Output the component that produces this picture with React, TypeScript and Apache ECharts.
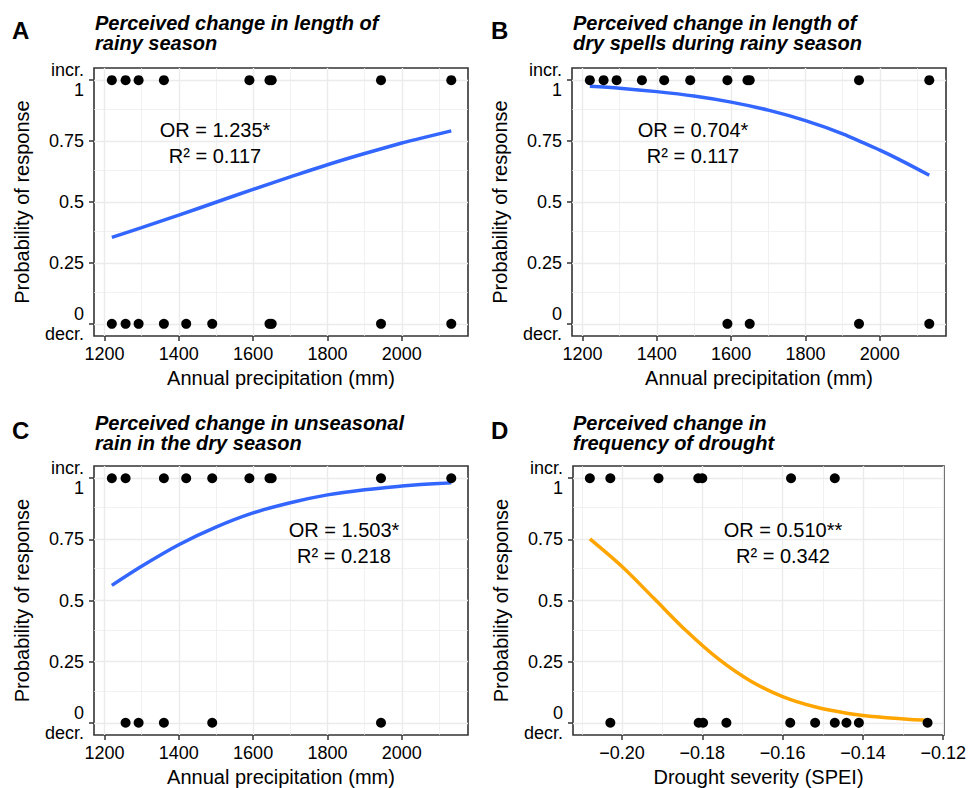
import React, { useEffect, useRef } from 'react';
import * as echarts from 'echarts';

const FONT = "'Liberation Sans', Arial, Helvetica, sans-serif";

// ---- tick / grid values ----
const precipTicks = [1200, 1400, 1600, 1800, 2000];
const precipMinor = [1300, 1500, 1700, 1900, 2100];
const speiTicks = [-0.2, -0.18, -0.16, -0.14, -0.12];
const speiMinor = [-0.21, -0.19, -0.17, -0.15, -0.13];
const probTicks = [0, 0.25, 0.5, 0.75, 1];
const probMinor = [0.125, 0.375, 0.625, 0.875];

// ---- Panel A: length of rainy season ----
const aIncr = [1220, 1257, 1292, 1360, 1590, 1644, 1650, 1944, 2133];
const aDecr = [1220, 1257, 1292, 1360, 1420, 1490, 1644, 1650, 1944, 2133];
const aCurveX = [1220, 1300, 1400, 1500, 1600, 1700, 1800, 1900, 2000, 2050, 2133];
const aCurveY = [0.355, 0.395, 0.446, 0.499, 0.552, 0.603, 0.653, 0.699, 0.742, 0.761, 0.792];

// ---- Panel B: dry spells during rainy season ----
const bIncr = [1220, 1257, 1292, 1360, 1420, 1490, 1590, 1644, 1650, 1944, 2133];
const bDecr = [1590, 1650, 1944, 2133];
const bCurveX = [1220, 1300, 1400, 1500, 1600, 1700, 1800, 1900, 2000, 2050, 2133];
const bCurveY = [0.975, 0.967, 0.953, 0.935, 0.91, 0.877, 0.834, 0.78, 0.713, 0.676, 0.61];

// ---- Panel C: unseasonal rain in dry season ----
const cIncr = [1220, 1257, 1360, 1420, 1490, 1590, 1644, 1650, 1944, 2133];
const cDecr = [1257, 1292, 1360, 1490, 1944];
const cCurveX = [1220, 1300, 1400, 1500, 1600, 1700, 1800, 1900, 2000, 2050, 2133];
const cCurveY = [0.562, 0.64, 0.728, 0.8, 0.858, 0.9, 0.932, 0.953, 0.968, 0.974, 0.981];

// ---- Panel D: frequency of drought ----
const dIncr = [-0.208, -0.2029, -0.1909, -0.181, -0.18, -0.1579, -0.147];
const dDecr = [-0.2029, -0.1809, -0.1798, -0.174, -0.1581, -0.1519, -0.147, -0.1441, -0.141, -0.1239];
const dCurveX = [-0.208, -0.2, -0.192, -0.184, -0.176, -0.168, -0.16, -0.152, -0.144, -0.136, -0.128, -0.124];
const dCurveY = [0.752, 0.639, 0.508, 0.376, 0.261, 0.171, 0.107, 0.0655, 0.0393, 0.0233, 0.0137, 0.0105];

const precipFmt = (v: number) => String(v);
const speiFmt = (v: number) => (v < 0 ? '\u2212' : '') + Math.abs(v).toFixed(2);

const panels = [
  {
    letter: 'A', title: 'Perceived change in length of\nrainy season',
    or: 'OR = 1.235*', r2: 'R\u00B2 = 0.117',
    incr: aIncr, decr: aDecr, cx: aCurveX, cy: aCurveY, color: '#3366FF',
    xMin: 1172, xMax: 2178, xTicks: precipTicks, xMinor: precipMinor,
    xName: 'Annual precipitation (mm)', fmt: precipFmt,
    grid: { left: 94, top: 68, width: 374, height: 268 },
    ann: [215, 130], letterPos: [12, 30], titlePos: [95, 13],
  },
  {
    letter: 'B', title: 'Perceived change in length of\ndry spells during rainy season',
    or: 'OR = 0.704*', r2: 'R\u00B2 = 0.117',
    incr: bIncr, decr: bDecr, cx: bCurveX, cy: bCurveY, color: '#3366FF',
    xMin: 1172, xMax: 2178, xTicks: precipTicks, xMinor: precipMinor,
    xName: 'Annual precipitation (mm)', fmt: precipFmt,
    grid: { left: 572, top: 68, width: 374, height: 268 },
    ann: [693, 130], letterPos: [491, 30], titlePos: [573, 13],
  },
  {
    letter: 'C', title: 'Perceived change in unseasonal\nrain in the dry season',
    or: 'OR = 1.503*', r2: 'R\u00B2 = 0.218',
    incr: cIncr, decr: cDecr, cx: cCurveX, cy: cCurveY, color: '#3366FF',
    xMin: 1172, xMax: 2178, xTicks: precipTicks, xMinor: precipMinor,
    xName: 'Annual precipitation (mm)', fmt: precipFmt,
    grid: { left: 94, top: 466, width: 374, height: 269 },
    ann: [344, 530], letterPos: [12, 430], titlePos: [95, 413],
  },
  {
    letter: 'D', title: 'Perceived change in\nfrequency of drought',
    or: 'OR = 0.510**', r2: 'R\u00B2 = 0.342',
    incr: dIncr, decr: dDecr, cx: dCurveX, cy: dCurveY, color: '#FFA500',
    xMin: -0.2122, xMax: -0.1198, xTicks: speiTicks, xMinor: speiMinor,
    xName: 'Drought severity (SPEI)', fmt: speiFmt,
    grid: { left: 573, top: 466, width: 373, height: 269 },
    ann: [783, 530], letterPos: [491, 430], titlePos: [573, 413],
  },
];

const yFmt = (v: number) => {
  if (Math.abs(v - 1) < 1e-9) return 'incr.\n1';
  if (Math.abs(v) < 1e-9) return '0\ndecr.';
  return String(v);
};

function buildOption() {
  const grid = panels.map((p) => ({
    ...p.grid,
    show: true,
    backgroundColor: '#FFFFFF',
    borderColor: '#333333',
    borderWidth: 1.6,
    containLabel: false,
  }));

  const xAxis = panels.map((p, i) => ({
    type: 'value',
    gridIndex: i,
    min: p.xMin,
    max: p.xMax,
    name: p.xName,
    nameLocation: 'middle',
    nameGap: 32,
    nameTextStyle: { fontSize: 20, color: '#000', fontFamily: FONT },
    axisLine: { show: false, onZero: false },
    axisTick: { show: true, length: 5, lineStyle: { color: '#333333', width: 1.5 }, customValues: p.xTicks },
    axisLabel: { customValues: p.xTicks, fontSize: 18, color: '#000', margin: 9, fontFamily: FONT, formatter: p.fmt },
    splitLine: { show: false },
    minorSplitLine: { show: false },
  }));

  const yAxis = panels.map((p, i) => ({
    type: 'value',
    gridIndex: i,
    min: -0.05,
    max: 1.05,
    name: 'Probability of response',
    nameLocation: 'middle',
    nameGap: 62,
    nameTextStyle: { fontSize: 20, color: '#000', fontFamily: FONT },
    axisLine: { show: false, onZero: false },
    axisTick: { show: true, length: 5, lineStyle: { color: '#333333', width: 1.5 }, customValues: probTicks },
    axisLabel: { customValues: probTicks, fontSize: 18, lineHeight: 20, color: '#000', margin: 10, fontFamily: FONT, formatter: yFmt },
    splitLine: { show: false },
    minorSplitLine: { show: false },
  }));

  const series: any[] = [];
  panels.forEach((p, i) => {
    const gridLines: any[] = [];
    p.xTicks.forEach((v) => gridLines.push({ xAxis: v, lineStyle: { width: 1.4 } }));
    p.xMinor.forEach((v) => gridLines.push({ xAxis: v, lineStyle: { width: 0.7 } }));
    probTicks.forEach((v) => gridLines.push({ yAxis: v, lineStyle: { width: 1.4 } }));
    probMinor.forEach((v) => gridLines.push({ yAxis: v, lineStyle: { width: 0.7 } }));

    series.push({
      type: 'line',
      xAxisIndex: i,
      yAxisIndex: i,
      data: p.cx.map((x, j) => [x, p.cy[j]]),
      showSymbol: false,
      smooth: 0.3,
      lineStyle: { color: p.color, width: 3.5, cap: 'butt' },
      z: 3,
      silent: true,
      markLine: {
        silent: true,
        z: 1,
        symbol: ['none', 'none'],
        label: { show: false },
        lineStyle: { color: '#EBEBEB', type: 'solid' },
        emphasis: { disabled: true },
        data: gridLines,
      },
    });
    series.push({
      type: 'scatter',
      xAxisIndex: i,
      yAxisIndex: i,
      data: p.incr.map((x) => [x, 1]).concat(p.decr.map((x) => [x, 0])),
      symbol: 'circle',
      symbolSize: 10,
      itemStyle: { color: '#000000', opacity: 1 },
      z: 4,
      silent: true,
    });
  });

  const graphic: any[] = [];
  panels.forEach((p) => {
    graphic.push({
      type: 'text',
      x: p.letterPos[0],
      y: p.letterPos[1],
      style: {
        text: p.letter, fontSize: 24, fontWeight: 'bold', fontFamily: FONT, fill: '#000',
        align: 'left', verticalAlign: 'middle', textAlign: 'left', textVerticalAlign: 'middle',
      },
    });
    graphic.push({
      type: 'text',
      x: p.titlePos[0],
      y: p.titlePos[1],
      style: {
        text: p.title, fontSize: 20, lineHeight: 20, fontWeight: 'bold', fontStyle: 'italic', fontFamily: FONT, fill: '#000',
        align: 'left', verticalAlign: 'top', textAlign: 'left', textVerticalAlign: 'top',
      },
    });
    graphic.push({
      type: 'text',
      x: p.ann[0],
      y: p.ann[1],
      z: 10,
      style: {
        text: p.or, fontSize: 20, fontFamily: FONT, fill: '#000',
        align: 'center', verticalAlign: 'middle', textAlign: 'center', textVerticalAlign: 'middle',
      },
    });
    graphic.push({
      type: 'text',
      x: p.ann[0],
      y: p.ann[1] + 26,
      z: 10,
      style: {
        text: p.r2, fontSize: 20, fontFamily: FONT, fill: '#000',
        align: 'center', verticalAlign: 'middle', textAlign: 'center', textVerticalAlign: 'middle',
      },
    });
  });

  return {
    animation: false,
    backgroundColor: '#FFFFFF',
    textStyle: { fontFamily: FONT },
    grid,
    xAxis,
    yAxis,
    series,
    graphic,
  };
}

export default function App() {
  const ref = useRef<HTMLDivElement>(null);
  useEffect(() => {
    if (!ref.current) return;
    const chart = echarts.init(ref.current, undefined, { renderer: 'svg' });
    chart.setOption(buildOption() as any);
    return () => chart.dispose();
  }, []);
  return (
    <div
      ref={ref}
      style={{ position: 'absolute', left: 0, top: 0, width: 969, height: 788, background: '#fff' }}
    />
  );
}
